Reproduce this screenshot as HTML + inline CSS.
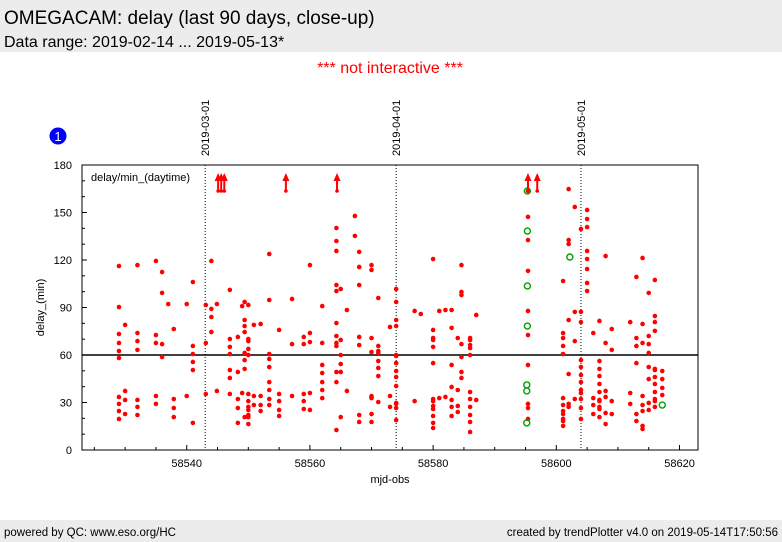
<!DOCTYPE html>
<html><head><meta charset="utf-8">
<style>
html,body{margin:0;padding:0;background:#fff;width:782px;height:542px;overflow:hidden;font-family:"Liberation Sans",sans-serif}
</style></head>
<body>
<svg id="chart" width="782" height="542" xmlns="http://www.w3.org/2000/svg" font-family="Liberation Sans, sans-serif">
<rect x="0" y="0" width="782" height="52" fill="#ececec"/>
<text x="4" y="24" font-size="19" fill="#000">OMEGACAM: delay (last 90 days, close-up)</text>
<text x="4" y="47" font-size="16" fill="#000">Data range: 2019-02-14 ... 2019-05-13*</text>
<text x="390" y="73" font-size="16" fill="#ff0000" text-anchor="middle">*** not interactive ***</text>
<circle cx="58" cy="136" r="8.5" fill="#0000ff"/>
<text x="58" y="141" font-size="13" fill="#fff" text-anchor="middle">1</text>
<rect x="0" y="520" width="782" height="22" fill="#ececec"/>
<text x="4" y="536" font-size="11.5" fill="#000">powered by QC: www.eso.org/HC</text>
<text x="778" y="536" font-size="11.5" fill="#000" text-anchor="end">created by trendPlotter v4.0 on 2019-05-14T17:50:56</text>
<g id="plot"></g>
</svg>
<script>
const xDomain=[58523,58623];
const yDomain=[0,180];
const xTicks=[58540,58560,58580,58600,58620];
const yTicks=[0,30,60,90,120,150,180];
const refLevel=60;
const dateMarkers=[58543,58574,58604];
const dateLabels=["2019-03-01","2019-04-01","2019-05-01"];
const arrowMjd=[58545.1,58545.6,58546.1,58556.1,58564.4,58595.4,58596.9];
const nightMjd=[58529.0,58530.0,58532.0,58535.0,58536.0,58537.0,58537.9,58540.0,58541.0,58543.1,58544.0,58544.9,58547.0,58548.3,58549.0,58549.4,58550.0,58550.9,58552.0,58553.4,58555.0,58557.1,58559.0,58560.0,58562.0,58564.3,58565.0,58566.0,58567.3,58568.0,58570.0,58571.1,58573.0,58574.0,58577.0,58578.0,58580.0,58581.0,58582.0,58583.0,58584.0,58584.6,58586.0,58587.0,58595.4,58601.1,58602.0,58603.0,58604.0,58605.0,58606.0,58607.0,58608.0,58609.0,58612.0,58613.0,58614.0,58615.0,58616.0,58617.2];
const nightDelays=[
[116.2,90.3,73.3,67.6,62.5,58.1,33.5,29.1,24.6,19.6],
[79.0,37.3,31.6,22.7],
[116.8,73.9,68.8,63.2,31.6,27.2,22.1],
[119.4,72.6,67.6,34.1,29.1],
[112.4,99.2,66.9,58.7],
[92.2],
[76.4,32.2,26.5,20.8],
[92.2,34.1],
[106.1,65.7,60.6,55.6,50.5,17.1],
[91.6,67.6,35.4],
[119.4,89.1,84.0,74.5],
[92.2,37.3],
[101.1,70.1,65.1,60.6,50.5,45.5,35.4],
[71.4,49.3,32.2,26.5,17.1],
[90.9,36.0],
[93.5,82.1,78.3,74.5,61.3,56.8,51.2,20.8],
[91.6,70.1,63.8,35.4,30.9,25.3,20.8,16.4,68.8,60.0,27.2,22.1],
[79.0,34.1,28.4],
[79.6,34.1,28.4,24.6],
[123.8,94.7,60.6,57.5,52.4,42.9,37.9,32.2,28.4],
[75.8,35.4,30.9,25.3,21.5],
[95.4,66.9,34.1],
[71.4,66.9,35.4,30.9,25.9],
[116.8,73.9,68.2,36.0,25.3],
[90.9,67.6,53.7,48.6,42.9,37.9,32.8],
[140.2,132.0,125.7,104.2,100.4,80.2,72.0,67.6,65.7,49.3,42.9,12.6],
[101.7,69.5,60.0,54.3,49.3,20.8],
[88.4,37.3],
[147.8,135.2],
[125.1,115.6,104.2,71.4,66.3,22.1,17.7],
[116.8,113.7,70.7,61.9,34.1,33.5,32.8,22.7,17.7],
[96.0,65.7,62.5,61.3,56.2,51.8,46.7,30.3],
[77.7,34.1,27.2],
[101.7,93.5,82.1,78.3,60.0,59.4,54.9,49.9,46.1,40.4,29.7,29.1,26.5,18.9],
[87.8,30.9],
[85.9],
[120.6,75.8,70.7,69.5,65.1,54.9,32.2,30.9,27.8,25.9,21.5,17.1,13.9],
[87.8,32.8],
[88.4,33.5],
[88.4,77.1,53.7,39.8,31.6,27.2,21.5],
[70.7,37.9,27.8,24.0],
[49.3,45.5,97.9,99.8,116.8,66.9,58.7],
[70.7,69.5,66.3,64.4,60.0,36.6,32.2,27.2,22.1,17.7,11.4],
[85.3,31.6],
[163.6,147.2,132.6,113.1,87.8,72.6,53.7,29.1,26.5,19.6],
[106.7,73.9,70.7,65.7,60.6,32.8,28.4,24.6,22.7,19.6,18.3,15.2],
[164.8,132.6,130.1,82.1,48.0,29.1,27.2],
[153.5,87.2,68.8,32.2],
[139.6,87.2,80.8,56.8,52.4,47.4,42.9,37.9,36.0,32.2,26.5,19.6],
[151.6,145.9,140.8,125.7,120.6,114.3,105.5,100.4],
[73.9,32.8,28.4,22.7],
[81.5,56.2,51.2,46.7,41.7,36.6,31.6,30.9,27.2,25.9,20.8],
[122.5,67.6,37.3,33.5,23.4,16.4],
[76.4,63.2,30.9,22.7],
[80.8,36.0,29.1],
[109.3,70.7,65.7,54.9,22.7,18.3],
[121.3,79.6,67.6,34.1,28.4,24.6,15.2,13.3],
[99.2,72.0,66.9,61.3,52.4,44.8,29.7,25.3],
[107.4,84.6,80.8,75.2,51.2,50.5,46.1,41.7,36.6,32.2,30.9,27.2],
[49.9,44.8,39.2,34.7]
];
const greenMjd=[58595.3,58595.3,58595.3,58595.3,58595.2,58595.2,58595.2,58602.2,58617.2];
const greenDelay=[163.6,138.3,103.6,78.3,41.1,37.3,17.1,121.9,28.4];

const L=82,R=698,T=165,B=450;
const X=v=>L+(v-xDomain[0])/(xDomain[1]-xDomain[0])*(R-L);
const Y=v=>B-(v-yDomain[0])/(yDomain[1]-yDomain[0])*(B-T);
const NS="http://www.w3.org/2000/svg";
const g=document.getElementById('plot');
function mk(tag,attrs,parent){const e=document.createElementNS(NS,tag);for(const k in attrs)e.setAttribute(k,attrs[k]);(parent||g).appendChild(e);return e;}

// plot background
const bg=mk('rect',{x:L,y:T,width:R-L,height:B-T,fill:'#fff'});



// date markers
dateMarkers.forEach((d,i)=>{
  const ln=mk('line',{x1:X(d),x2:X(d),y1:T,y2:B,stroke:'#000','stroke-width':1,'stroke-dasharray':'1,2'});
  
  
  const t=mk('text',{x:0,y:0,'font-size':11,fill:'#000',transform:`translate(${X(d)+4},156) rotate(-90)`});
  t.textContent=dateLabels[i];
  
  
});

// reference line
const ref=mk('line',{x1:L,x2:R,y1:Y(refLevel),y2:Y(refLevel),stroke:'#000','stroke-width':1.5});



// ticks
for(let v=xDomain[0]+2;v<=xDomain[1];v+=5){
  if(v<xDomain[0])continue;
  const major=xTicks.includes(v);
  const tk=mk('line',{x1:X(v),x2:X(v),y1:B,y2:B-(major?5:3),stroke:'#000','stroke-width':1});
  
  
}
xTicks.forEach(v=>{
  const t=mk('text',{x:X(v),y:467,'font-size':11,'text-anchor':'middle',fill:'#000'});
  t.textContent=v;
  
  
});
for(let v=yDomain[0];v<=yDomain[1];v+=10){
  const major=yTicks.includes(v);
  const tk=mk('line',{x1:L,x2:L+(major?5:3),y1:Y(v),y2:Y(v),stroke:'#000','stroke-width':1});
  
  
}
yTicks.forEach(v=>{
  const t=mk('text',{x:72,y:Y(v)+4,'font-size':11,'text-anchor':'end',fill:'#000'});
  t.textContent=v;
  
  
});

// axis titles
const xt=mk('text',{x:(L+R)/2,y:483,'font-size':11,'text-anchor':'middle',fill:'#000'});
xt.textContent='mjd-obs';


const yt=mk('text',{x:0,y:0,'font-size':11,'text-anchor':'middle',fill:'#000',transform:`translate(44,${(T+B)/2}) rotate(-90)`});
yt.textContent='delay_(min)';


const lg=mk('text',{x:91,y:181,'font-size':11,fill:'#000'});
lg.textContent='delay/min_(daytime)';



// points
nightMjd.forEach((m,i)=>{
  nightDelays[i].forEach(d=>{
    const c=mk('circle',{cx:X(m),cy:Y(d),r:2.3,fill:'#ff0000'});
    
    
  });
});
greenMjd.forEach((m,i)=>{
  const c=mk('circle',{cx:X(m),cy:Y(greenDelay[i]),r:3,fill:'none',stroke:'#00a000','stroke-width':1.4});
  
  
});

// off-scale arrows
arrowMjd.forEach(m=>{
  const x=X(m);
  const a=mk('g',{});
  
  
  mk('line',{x1:x,x2:x,y1:191,y2:180,stroke:'#ff0000','stroke-width':2},a);
  mk('polygon',{points:`${x-3.5},181 ${x+3.5},181 ${x},173`,fill:'#ff0000'},a);
  mk('circle',{cx:x,cy:191,r:1.8,fill:'#ff0000'},a);
});

// frame
const fr=mk('rect',{x:L,y:T,width:R-L,height:B-T,fill:'none',stroke:'#000','stroke-width':1});


</script>
</body></html>
